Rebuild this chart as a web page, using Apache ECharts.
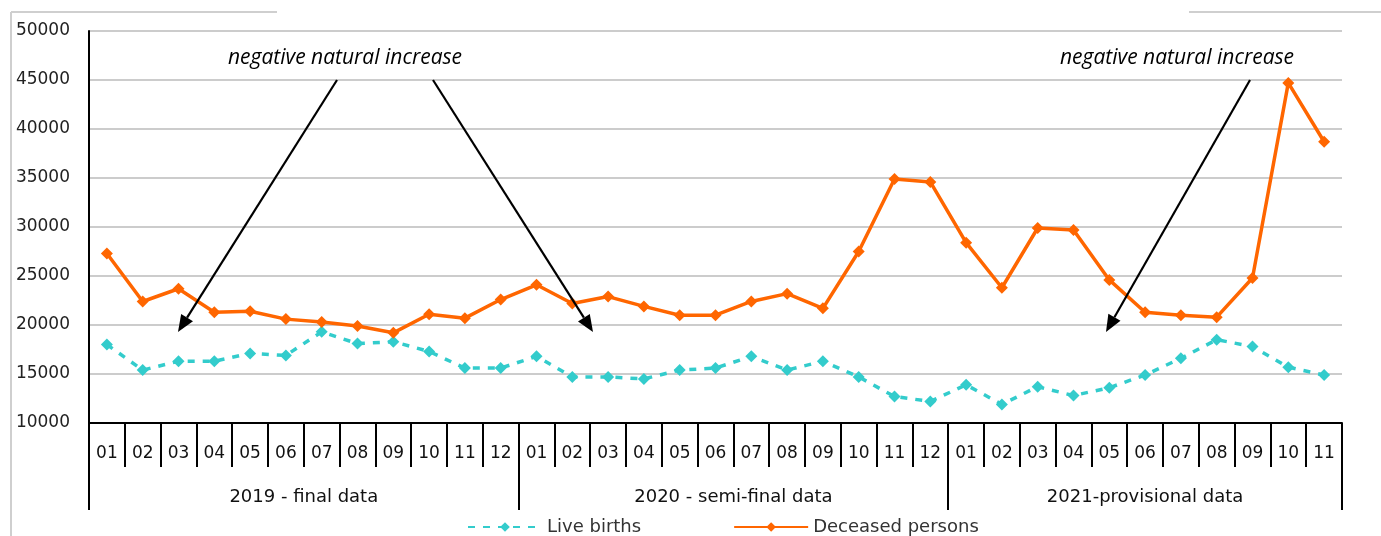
<!DOCTYPE html>
<html>
<head>
<meta charset="utf-8">
<script src="https://cdn.jsdelivr.net/npm/echarts@6/dist/echarts.min.js"></script>
<style>
    html, body { margin: 0; padding: 0; background: #fff; }
    #lineChart { width: 1381px; height: 536px; }
</style>
</head>
<body>
<div id="lineChart"></div>
<script>
// months along the bottom axis
var months = ['01', '02', '03', '04', '05', '06', '07', '08', '09', '10', '11', '12',
    '01', '02', '03', '04', '05', '06', '07', '08', '09', '10', '11', '12',
    '01', '02', '03', '04', '05', '06', '07', '08', '09', '10', '11'];

// year groups: label, centre position and dividers (in months)
var yearLabels = ['2019 - final data', '2020 - semi-final data', '2021-provisional data'];
var yearCentres = [6, 18, 29.5];
var yearBounds = [0, 12, 24, 35];

var liveBirths = [18000, 15400, 16300, 16300, 17100, 16900, 19300, 18100, 18300, 17300, 15600, 15600,
    16800, 14700, 14700, 14500, 15400, 15600, 16800, 15400, 16300, 14700, 12700, 12200,
    13900, 11900, 13700, 12800, 13600, 14900, 16600, 18500, 17800, 15700, 14900];

var deceased = [27300, 22400, 23700, 21300, 21400, 20600, 20300, 19900, 19200, 21100, 20700, 22600,
    24100, 22200, 22900, 21900, 21000, 21000, 22400, 23200, 21700, 27500, 34900, 34600,
    28400, 23800, 29900, 29700, 24600, 21300, 21000, 20800, 24800, 44700, 38700];

var noteText = 'negative natural increase';

// arrow = line + filled head
function arrow(x1, y1, x2, y2) {
    var dx = x2 - x1, dy = y2 - y1;
    var len = Math.sqrt(dx * dx + dy * dy);
    var ux = dx / len, uy = dy / len;
    var hl = 17, hw = 7;
    var bx = x2 - ux * hl, by = y2 - uy * hl;
    return [{
        type: 'line',
        shape: { x1: x1, y1: y1, x2: bx, y2: by },
        style: { stroke: '#000', lineWidth: 2.2 },
        z: 10
    }, {
        type: 'polygon',
        shape: { points: [[x2, y2], [bx - uy * hw, by + ux * hw], [bx + uy * hw, by - ux * hw]] },
        style: { fill: '#000' },
        z: 10
    }];
}

var myChart = echarts.init(document.getElementById('lineChart'));

var graphics = [
    // partial outer frame
    { type: 'line', shape: { x1: 11, y1: 12, x2: 277, y2: 12 }, style: { stroke: '#cfcfcf', lineWidth: 2 } },
    { type: 'line', shape: { x1: 11, y1: 12, x2: 11, y2: 536 }, style: { stroke: '#cfcfcf', lineWidth: 2 } },
    { type: 'line', shape: { x1: 1189, y1: 12, x2: 1381, y2: 12 }, style: { stroke: '#cfcfcf', lineWidth: 2 } },
    {
        type: 'text', x: 345, y: 58, z: 10,
        style: { text: noteText, font: 'italic 21px "Open Sans"', fill: '#000', align: 'center', verticalAlign: 'middle' }
    },
    {
        type: 'text', x: 1177, y: 58, z: 10,
        style: { text: noteText, font: 'italic 21px "Open Sans"', fill: '#000', align: 'center', verticalAlign: 'middle' }
    }
].concat(arrow(337, 80, 178, 332), arrow(433, 80, 593, 332), arrow(1250, 80, 1106, 332));

var option = {
    animation: false,
    textStyle: { fontFamily: 'DejaVu Sans' },
    grid: { left: 89, right: 39, top: 31, bottom: 113, containLabel: false },
    legend: {
        left: 462,
        top: 513,
        itemWidth: 74,
        itemHeight: 12,
        itemGap: 92,
        textStyle: { fontSize: 18, color: '#333' },
        data: ['Live births', 'Deceased persons']
    },
    xAxis: [{
        type: 'category',
        data: months,
        boundaryGap: true,
        axisLine: { lineStyle: { color: '#000', width: 2 } },
        axisTick: { show: true, interval: 0, length: 44, lineStyle: { color: '#000', width: 2 } },
        axisLabel: { interval: 0, fontSize: 17, color: '#111', margin: 22 },
        splitLine: { show: false }
    }, {
        type: 'value',
        position: 'bottom',
        min: 0,
        max: 35,
        axisLine: { show: false },
        axisTick: { show: true, customValues: yearBounds, length: 87, lineStyle: { color: '#000', width: 2 } },
        axisLabel: {
            customValues: yearCentres,
            fontSize: 18,
            color: '#111',
            margin: 65,
            formatter: function (value) {
                var i = yearCentres.indexOf(value);
                return i >= 0 ? yearLabels[i] : '';
            }
        },
        splitLine: { show: false }
    }],
    yAxis: {
        type: 'value',
        min: 10000,
        max: 50000,
        interval: 5000,
        axisLine: { show: true, lineStyle: { color: '#000', width: 2 } },
        axisTick: { show: false },
        axisLabel: {
            fontSize: 17, color: '#222', margin: 19,
            formatter: function (value) { return String(value); }
        },
        splitLine: { lineStyle: { color: '#cccccc', width: 2 } }
    },
    series: [{
        name: 'Live births',
        type: 'line',
        xAxisIndex: 0,
        data: liveBirths,
        symbol: 'diamond',
        symbolSize: 12,
        color: '#33CCCC',
        itemStyle: { color: '#33CCCC' },
        lineStyle: { color: '#33CCCC', width: 3.5, type: [7, 8] }
    }, {
        name: 'Deceased persons',
        type: 'line',
        xAxisIndex: 0,
        data: deceased,
        symbol: 'diamond',
        symbolSize: 12,
        color: '#FF6600',
        itemStyle: { color: '#FF6600' },
        lineStyle: { color: '#FF6600', width: 3.5 }
    }],
    graphic: graphics
};

myChart.setOption(option);
</script>
</body>
</html>
